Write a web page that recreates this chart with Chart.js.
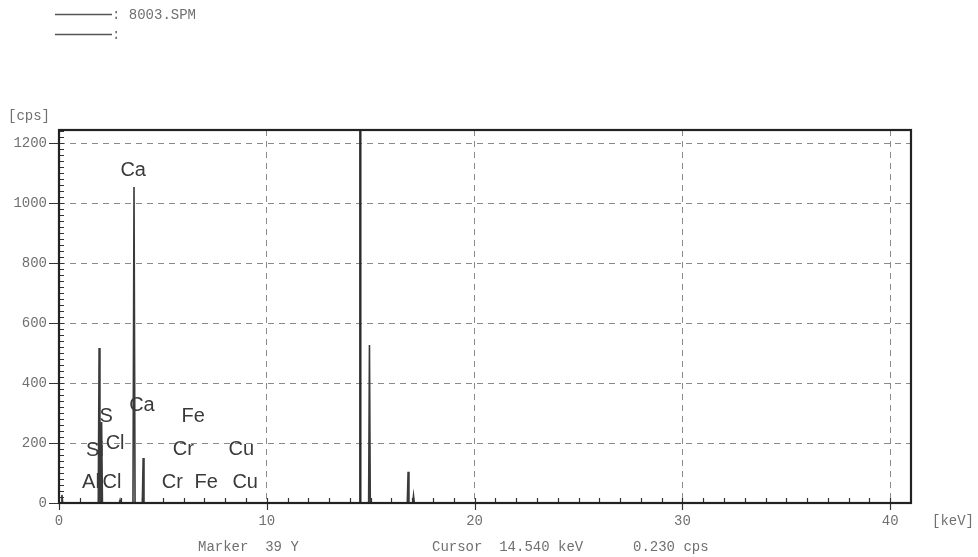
<!DOCTYPE html>
<html>
<head>
<meta charset="utf-8">
<script src="https://cdn.jsdelivr.net/npm/chart.js@4.4.1/dist/chart.umd.min.js"></script>
<style>
html,body{margin:0;padding:0;background:#fff;}
#wrap{width:978px;height:557px;position:relative;}
</style>
</head>
<body>
<div id="wrap"><canvas id="myChart"></canvas></div>
<script>
// spectrum (keV, cps)
var energy=[0,0.10,0.14,0.18,1.89,1.93,1.97,2.01,2.05,2.09,2.90,2.94,2.98,3.56,3.61,3.66,4.01,4.05,4.09,14.90,14.94,14.98,16.76,16.80,16.84,17.02,17.06,17.10,41];
var counts=[0,0,27,0,0,517,0,0,270,0,0,10,0,0,1055,0,0,150,0,0,527,0,0,104,0,0,25,0,0];
var cursorKeV=14.50;
var xTicks=[0,10,20,30,40];
var yTicks=[0,200,400,600,800,1000,1200];
var elemLabels=['Ca','S','Ca','Fe','Si','Cl','Cr','Cu','Al','Cl','Cr','Fe','Cu'];
var elemX=[3.57,2.27,3.99,6.46,1.73,2.70,5.98,8.77,1.54,2.55,5.45,7.08,8.96];
var elemY=[1110,290,327,290,174,200,180,180,70,70,70,70,70];
var fileName='8003.SPM';
var markerText='Marker  39 Y';
var cursorText='Cursor  14.540 keV';
var cursorCps='0.230 cps';

var spectrum=energy.map(function(e,i){return {x:e,y:counts[i]};});
var mono='"Liberation Mono", "DejaVu Sans Mono", monospace';
var txtColor='#707070';

var decor={
	id:'decor',
	afterDatasetsDraw:function(chart){
		var c=chart.ctx, a=chart.chartArea, xs=chart.scales.x, ys=chart.scales.y;
		c.save();
		// element labels
		c.fillStyle='#3a3a3a';
		c.font='20px "Liberation Sans", Arial, sans-serif';
		c.textAlign='center';c.textBaseline='middle';
		elemLabels.forEach(function(t,i){
			c.fillText(t,xs.getPixelForValue(elemX[i]),ys.getPixelForValue(elemY[i]));
		});
		// minor ticks
		c.strokeStyle='#333';c.lineWidth=1.2;
		c.beginPath();
		for(var k=1;k<41;k++){
			var px=Math.round(xs.getPixelForValue(k))+0.5;
			c.moveTo(px,a.bottom);c.lineTo(px,a.bottom-5);
		}
		for(var v=20;v<1245;v+=20){
			var py=Math.round(ys.getPixelForValue(v))+0.5;
			c.moveTo(a.left,py);c.lineTo(a.left+5,py);
		}
		// major ticks outward
		xTicks.forEach(function(t){
			var px=Math.round(xs.getPixelForValue(t))+0.5;
			c.moveTo(px,a.bottom);c.lineTo(px,a.bottom+7);
		});
		yTicks.forEach(function(t){
			var py=Math.round(ys.getPixelForValue(t))+0.5;
			c.moveTo(a.left,py);c.lineTo(a.left-10,py);
		});
		c.stroke();
		// frame
		c.strokeStyle='#222';c.lineWidth=2.2;
		c.strokeRect(a.left,a.top,a.right-a.left,a.bottom-a.top);
		// texts
		c.fillStyle=txtColor;
		c.font='14px '+mono;
		c.textAlign='left';c.textBaseline='middle';
		c.fillText('[cps]',8,116);
		c.fillText('[keV]',932,521);
		c.fillText(markerText,198,547);
		c.fillText(cursorText,432,547);
		c.fillText(cursorCps,633,547);
		// legend
		c.strokeStyle='#555';c.lineWidth=1.5;
		c.beginPath();
		c.moveTo(55,14.5);c.lineTo(112,14.5);
		c.moveTo(55,34.5);c.lineTo(112,34.5);
		c.stroke();
		c.fillText(': '+fileName,112,15);
		c.fillText(':',112,35);
		c.restore();
	}
};

var ctx=document.getElementById('myChart').getContext('2d');
var myChart=new Chart(ctx,{
	type:'line',
	data:{
		datasets:[{
			label:fileName,
			data:spectrum,
			borderColor:'#3a3a3a',
			borderWidth:1.6,
			pointRadius:0,
			tension:0,
			fill:false
		},{
			label:'cursor',
			data:[{x:cursorKeV,y:0},{x:cursorKeV,y:1245}],
			borderColor:'#2a2a2a',
			borderWidth:2.4,
			pointRadius:0
		}]
	},
	plugins:[decor],
	options:{
		responsive:true,
		maintainAspectRatio:false,
		animation:false,
		layout:{padding:{left:0,top:130,right:67,bottom:24}},
		plugins:{legend:{display:false},tooltip:{enabled:false}},
		scales:{
			x:{
				type:'linear',
				min:0,max:41,
				afterBuildTicks:function(s){s.ticks=xTicks.map(function(v){return {value:v};});},
				afterFit:function(s){s.height=30;},
				grid:{color:'#8a8a8a',lineWidth:1,drawTicks:false},
				border:{display:false,dash:[6,5]},
				ticks:{padding:10,color:txtColor,font:{family:mono,size:14},maxRotation:0,
					callback:function(v){return String(v);}}
			},
			y:{
				min:0,max:1245,
				afterBuildTicks:function(s){s.ticks=yTicks.map(function(v){return {value:v};});},
				afterFit:function(s){s.width=59;},
				grid:{color:'#8a8a8a',lineWidth:1,drawTicks:false},
				border:{display:false,dash:[6,5]},
				ticks:{padding:12,color:txtColor,font:{family:mono,size:14},
					callback:function(v){return String(v);}}
			}
		}
	}
});
</script>
</body>
</html>
